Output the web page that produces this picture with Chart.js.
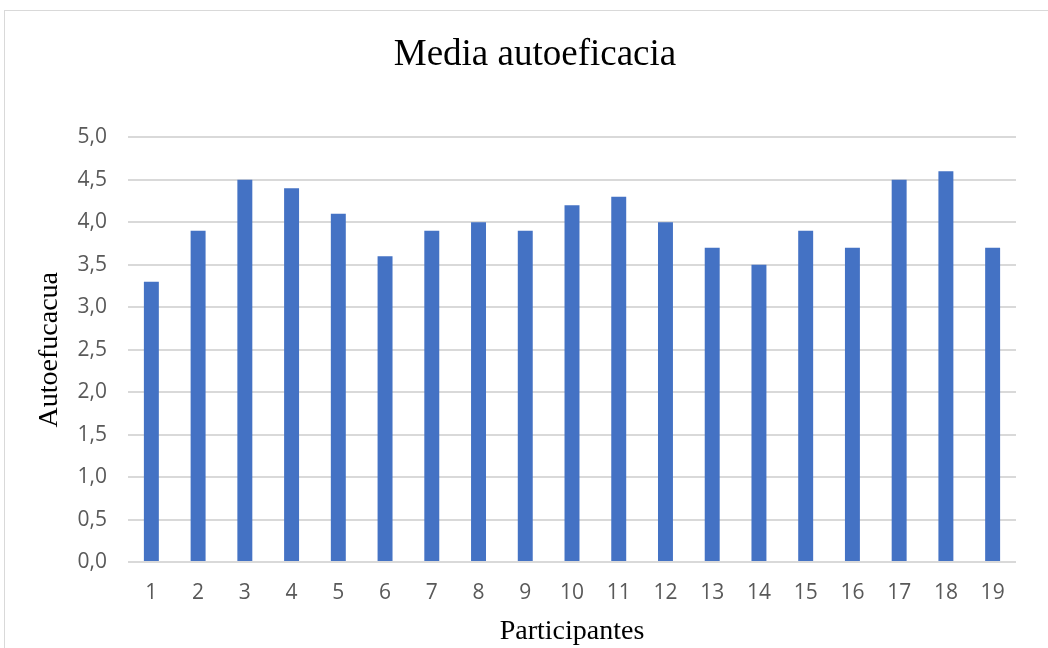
<!DOCTYPE html>
<html>
<head>
<meta charset="utf-8">
<script src="https://cdn.jsdelivr.net/npm/chart.js@4.4.1/dist/chart.umd.min.js"></script>
<style>
  html, body { margin: 0; padding: 0; background: #ffffff; }
  #wrap { position: relative; width: 1048px; height: 648px; overflow: hidden; }
  #frame { position: absolute; left: 4px; top: 10px; width: 1100px; height: 700px;
           border: 1.5px solid #d9d9d9; box-sizing: border-box; }
  canvas { position: absolute; left: 0; top: 0; }
</style>
</head>
<body>
<div id="wrap">
  <div id="frame"></div>
  <canvas id="c" width="1048" height="648"></canvas>
</div>
<script>
const participantes = ['1','2','3','4','5','6','7','8','9','10','11','12','13','14','15','16','17','18','19'];
const mediaAutoeficacia = [3.3, 3.9, 4.5, 4.4, 4.1, 3.6, 3.9, 4.0, 3.9, 4.2, 4.3, 4.0, 3.7, 3.5, 3.9, 3.7, 4.5, 4.6, 3.7];
const yTicks = [0, 0.5, 1, 1.5, 2, 2.5, 3, 3.5, 4, 4.5, 5];

const tickFont = { family: "'Open Sans', 'Liberation Sans', sans-serif", size: 21 };
const serif = "'Liberation Serif', 'DejaVu Serif', serif";

// Centre the title across the whole framed panel rather than the padded area
const titleSpan = {
  id: 'titleSpan',
  afterLayout(chart) {
    if (chart.titleBlock) {
      chart.titleBlock.left = 4;
      chart.titleBlock.right = 1066;
      chart.titleBlock.width = 1062;
    }
  }
};

new Chart(document.getElementById('c'), {
  type: 'bar',
  data: {
    labels: participantes,
    datasets: [{
      label: 'Media autoeficacia',
      data: mediaAutoeficacia,
      backgroundColor: '#4472C4',
      borderWidth: 0,
      barPercentage: 0.64,
      categoryPercentage: 0.5
    }]
  },
  plugins: [titleSpan],
  options: {
    responsive: false,
    animation: false,
    devicePixelRatio: 1,
    layout: { padding: { top: 0, right: 32, bottom: 0, left: 0 } },
    plugins: {
      legend: { display: false },
      tooltip: { enabled: false },
      title: {
        display: true,
        text: 'Media autoeficacia',
        color: '#000000',
        font: { family: serif, size: 37, weight: 'normal', lineHeight: 1.2 },
        padding: { top: 33, bottom: 60 }
      }
    },
    scales: {
      x: {
        grid: { display: false, drawTicks: false },
        border: { display: false },
        ticks: { color: '#595959', font: tickFont, padding: 18, maxRotation: 0 },
        title: {
          display: true,
          text: 'Participantes',
          color: '#000000',
          font: { family: serif, size: 28, weight: 'normal', lineHeight: 1.2 },
          padding: { top: 4, bottom: 0 }
        },
        afterFit: (s) => { s.height = 86; }
      },
      y: {
        min: 0,
        max: 5,
        afterBuildTicks: (s) => { s.ticks = yTicks.map(v => ({ value: v })); },
        grid: { color: '#d9d9d9', lineWidth: 2, drawTicks: false },
        border: { display: false },
        ticks: {
          color: '#595959',
          font: tickFont,
          padding: 21,
          callback: (v) => Number(v).toFixed(1).replace('.', ',')
        },
        title: {
          display: true,
          text: 'Autoefucacua',
          color: '#000000',
          font: { family: serif, size: 28, weight: 'normal', lineHeight: 1.2 },
          padding: { top: 33, bottom: 0 }
        },
        afterFit: (s) => { s.width = 128; }
      }
    }
  }
});
</script>
</body>
</html>
